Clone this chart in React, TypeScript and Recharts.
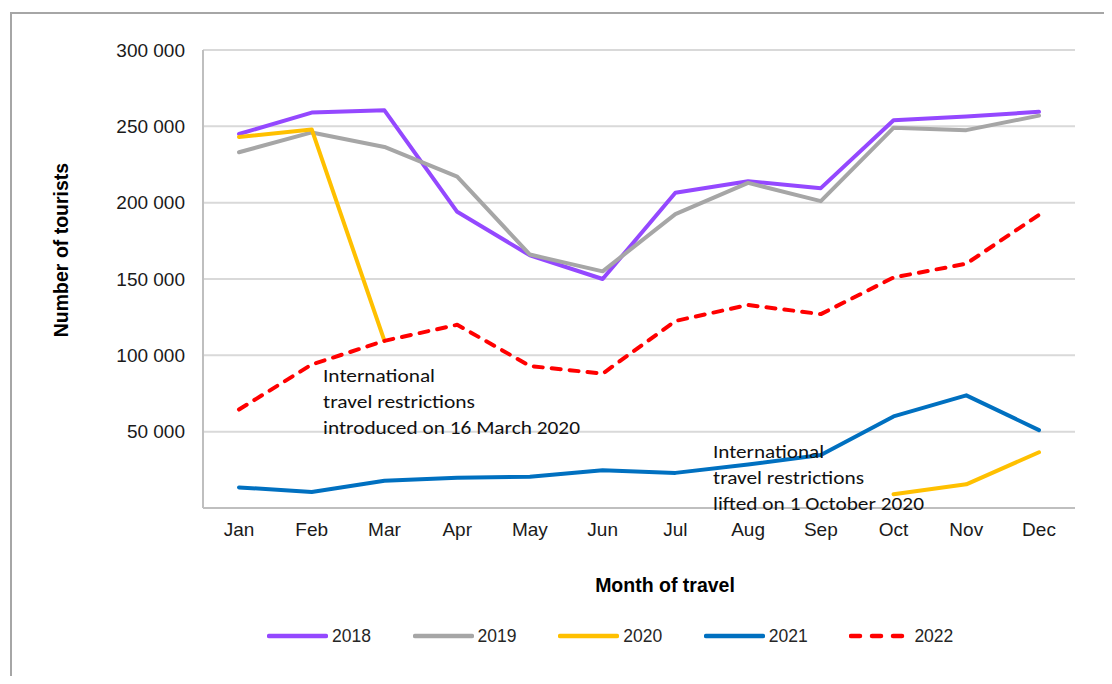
import React from 'react';
import { LineChart, Line, XAxis, YAxis, CartesianGrid, Legend } from 'recharts';

const months = ['Jan', 'Feb', 'Mar', 'Apr', 'May', 'Jun', 'Jul', 'Aug', 'Sep', 'Oct', 'Nov', 'Dec'];
const y2018 = [245000, 259000, 260500, 194000, 165500, 150000, 206500, 214000, 209500, 254000, 256500, 259500];
const y2019 = [233000, 246000, 236500, 217000, 166000, 155000, 192500, 213000, 201000, 249000, 247500, 257000];
const y2020 = [243000, 248000, 109500, null, null, null, null, null, null, 9000, 15500, 36500];
const y2021 = [13500, 10500, 17800, 19800, 20500, 24700, 23000, 28500, 34700, 60000, 73800, 51000];
const y2022 = [64500, 94000, 109500, 120000, 93000, 88000, 122500, 133000, 127000, 151000, 160000, 192000];
const yTicks = [50000, 100000, 150000, 200000, 250000, 300000];

const series = [
  { key: '2018', values: y2018, color: '#9448FF', dash: undefined as string | undefined },
  { key: '2019', values: y2019, color: '#A6A6A6', dash: undefined },
  { key: '2020', values: y2020, color: '#FFC000', dash: undefined },
  { key: '2021', values: y2021, color: '#0070C0', dash: undefined },
  { key: '2022', values: y2022, color: '#FF0000', dash: '9 9' },
];

const data = months.map((m, i) => {
  const row: Record<string, any> = { month: m };
  series.forEach((s) => {
    row[s.key] = s.values[i];
  });
  return row;
});

const fmt = (v: number) => String(v).replace(/\B(?=(\d{3})+(?!\d))/g, ' ');

const AXIS = '#BFBFBF';
const FONT = '"Liberation Sans", Arial, sans-serif';
const NOTE_FONT = 'Carlito, Lato, sans-serif';
const X_PAD = { left: 36, right: 36 };

const LegendContent = () => (
  <div style={{ display: 'flex', alignItems: 'center', height: 30, paddingLeft: 259, fontFamily: FONT }}>
    {series.map((s) => (
      <div key={s.key} style={{ display: 'flex', alignItems: 'center', width: 145.6 }}>
        <svg width={61} height={8} style={{ display: 'block' }}>
          <line x1={2} y1={4} x2={59} y2={4} stroke={s.color} strokeWidth={4.5} strokeLinecap="round"
            strokeDasharray={s.dash ? '9 12' : undefined} />
        </svg>
        <span style={{ marginLeft: 4, fontSize: 17.5, color: '#262626' }}>{s.key}</span>
      </div>
    ))}
  </div>
);

const noteStyle: React.CSSProperties = { fontFamily: NOTE_FONT, fontSize: 18, fill: '#111' };

export default function App() {
  return (
    <div style={{ position: 'relative', width: 1096, height: 668, overflow: 'hidden', background: '#fff' }}>
      <div style={{ position: 'absolute', left: 2, top: 4, width: 1300, height: 900, border: '2px solid #A6A6A6', boxSizing: 'border-box' }} />
      <div style={{ position: 'absolute', left: 0, top: 0 }}>
        <LineChart width={1096} height={668} data={data} margin={{ top: 42, right: 29, left: 0, bottom: 25 }}>
          <CartesianGrid vertical={false} stroke="#D9D9D9" strokeWidth={2} />
          <XAxis
            dataKey="month"
            height={113}
            padding={X_PAD}
            tickSize={0}
            tickMargin={15}
            axisLine={{ stroke: AXIS, strokeWidth: 2 }}
            tick={{ fontFamily: FONT, fontSize: 19, fill: '#1a1a1a' }}
            interval={0}
            label={(props: any) => {
              const vb = props.viewBox || {};
              return (
                <text x={(vb.x ?? 195) + (vb.width ?? 872) / 2 + 26} y={(vb.y ?? 500) + 84} textAnchor="middle"
                  style={{ fontFamily: FONT, fontSize: 19.5, fontWeight: 'bold', fill: '#000' }}>
                  Month of travel
                </text>
              );
            }}
          />
          <XAxis xAxisId="top" dataKey="month" orientation="top" height={0} padding={X_PAD} tick={false} tickLine={false}
            axisLine={{ stroke: AXIS, strokeWidth: 2 }} />
          <YAxis
            width={195}
            domain={[0, 300000]}
            ticks={yTicks}
            tickFormatter={fmt}
            tickSize={0}
            tickMargin={18}
            axisLine={{ stroke: AXIS, strokeWidth: 2 }}
            tick={{ fontFamily: FONT, fontSize: 19, fill: '#1a1a1a' }}
            label={(props: any) => {
              const vb = props.viewBox || {};
              const x = (vb.x ?? 0) + 60;
              const y = (vb.y ?? 42) + 200;
              return (
                <text x={x} y={y} textAnchor="middle" transform={`rotate(-90 ${x} ${y})`}
                  style={{ fontFamily: FONT, fontSize: 19.5, fontWeight: 'bold', fill: '#000' }}>
                  Number of tourists
                </text>
              );
            }}
          />
          <YAxis yAxisId="right" orientation="right" width={0} tick={false} tickLine={false}
            axisLine={{ stroke: AXIS, strokeWidth: 2 }} />
          <Legend verticalAlign="bottom" content={LegendContent as any} />
          {series.map((s) => (
            <Line
              key={s.key}
              dataKey={s.key}
              stroke={s.color}
              strokeWidth={4}
              strokeDasharray={s.dash}
              strokeLinecap="round"
              strokeLinejoin="round"
              dot={false}
              activeDot={false}
              isAnimationActive={false}
              legendType="line"
            />
          ))}
        </LineChart>
      </div>
      <svg width={1096} height={668} style={{ position: 'absolute', left: 0, top: 0, pointerEvents: 'none' }}>
        <text x={315} y={374} style={noteStyle} textLength={112} lengthAdjust="spacingAndGlyphs">International</text>
        <text x={315} y={400} style={noteStyle} textLength={152} lengthAdjust="spacingAndGlyphs">travel restrictions</text>
        <text x={315} y={426} style={noteStyle} textLength={257} lengthAdjust="spacingAndGlyphs">introduced on 16 March 2020</text>
        <text x={705} y={450} style={noteStyle} textLength={111} lengthAdjust="spacingAndGlyphs">International</text>
        <text x={705} y={476} style={noteStyle} textLength={151} lengthAdjust="spacingAndGlyphs">travel restrictions</text>
        <text x={705} y={502} style={noteStyle} textLength={211} lengthAdjust="spacingAndGlyphs">lifted on 1 October 2020</text>
      </svg>
    </div>
  );
}
